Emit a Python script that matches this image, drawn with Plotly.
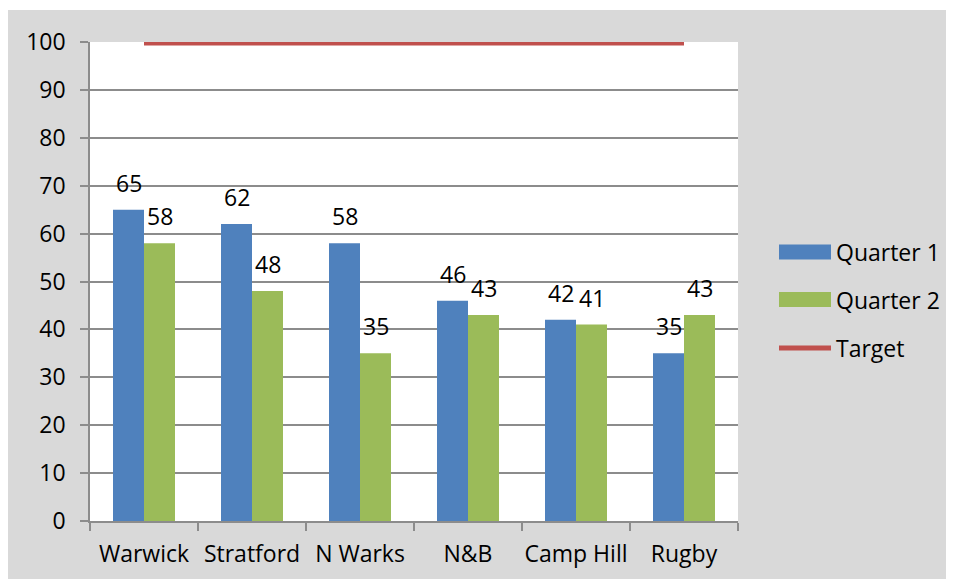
import plotly.graph_objects as go

categories = ["Warwick", "Stratford", "N Warks", "N&B", "Camp Hill", "Rugby"]
quarter1 = [65, 62, 58, 46, 42, 35]
quarter2 = [58, 48, 35, 43, 41, 43]
target = [100, 100, 100, 100, 100, 100]
y_ticks = [0, 10, 20, 30, 40, 50, 60, 70, 80, 90, 100]
series_names = ["Quarter 1", "Quarter 2", "Target"]

BLUE = "#4f81bd"
GREEN = "#9bbb59"
RED = "#c0504d"
GRID = "#8c8c8c"
BG = "#d9d9d9"
FONT = "Open Sans"

W, H = 954, 579
OX, OY = 8, 8  # page body offset
ML, MT = 82, 34
PW, PH = 648, 479
MR, MB = W - ML - PW, H - MT - PH


def px(x):
    return (x - OX - ML) / PW


def py(y):
    return 1 - (y - OY - MT) / PH


fig = go.Figure()
fig.add_trace(go.Bar(x=categories, y=quarter1, name=series_names[0], marker=dict(color=BLUE, line=dict(width=0)), showlegend=False))
fig.add_trace(go.Bar(x=categories, y=quarter2, name=series_names[1], marker=dict(color=GREEN, line=dict(width=0)), showlegend=False))
fig.add_trace(go.Scatter(x=categories, y=target, name=series_names[2], mode="lines", cliponaxis=True,
                         line=dict(color=RED, width=7), showlegend=False))

# data labels
off = 0.1435
annotations = []
for i, (a, b) in enumerate(zip(quarter1, quarter2)):
    annotations.append(dict(x=i - off, y=a, text=str(a), showarrow=False, yshift=27, yanchor="middle",
                            font=dict(family=FONT, size=23, color="#000")))
    annotations.append(dict(x=i + off, y=b, text=str(b), showarrow=False, yshift=27, yanchor="middle",
                            font=dict(family=FONT, size=23, color="#000")))

shapes = [
    dict(type="rect", xref="paper", yref="paper", x0=px(-20), x1=px(980), y0=py(10), y1=py(-20),
         fillcolor="white", line=dict(width=0), layer="below"),
]

# manual legend
leg_rows = [252, 299.5, 348]
shapes.append(dict(type="rect", xref="paper", yref="paper", x0=px(779), x1=px(831), y0=py(leg_rows[0] + 7.5), y1=py(leg_rows[0] - 7.5),
                   fillcolor=BLUE, line=dict(width=0)))
shapes.append(dict(type="rect", xref="paper", yref="paper", x0=px(779), x1=px(831), y0=py(leg_rows[1] + 7.5), y1=py(leg_rows[1] - 7.5),
                   fillcolor=GREEN, line=dict(width=0)))
shapes.append(dict(type="line", xref="paper", yref="paper", x0=px(779), x1=px(831), y0=py(leg_rows[2]), y1=py(leg_rows[2]),
                   line=dict(color=RED, width=5)))
for name, ry in zip(series_names, leg_rows):
    annotations.append(dict(xref="paper", yref="paper", x=px(834), y=py(ry), text=name, showarrow=False,
                            xanchor="left", yanchor="middle", font=dict(family=FONT, size=23, color="#000")))

fig.update_layout(
    width=W, height=H,
    margin=dict(l=ML, r=MR, t=MT, b=MB, pad=0),
    paper_bgcolor=BG, plot_bgcolor="white",
    font=dict(family=FONT, size=23, color="#000"),
    barmode="group", bargap=0.426, bargroupgap=0,
    showlegend=False,
    annotations=annotations, shapes=shapes,
    xaxis=dict(type="category", showgrid=False, showline=True, linecolor=GRID, linewidth=1.5,
               ticks="outside", ticklen=8, tickcolor=GRID, tickwidth=1.5, tickson="boundaries",
               ticklabelstandoff=12, tickangle=0, automargin=False, tickfont=dict(size=23)),
    yaxis=dict(range=[0, 100], tickvals=y_ticks, showgrid=True, gridcolor=GRID, gridwidth=1.5,
               showline=True, linecolor=GRID, linewidth=1.5, zeroline=False, automargin=False,
               ticks="outside", ticklen=8, tickcolor=GRID, tickwidth=1.5, ticklabelstandoff=10,
               tickfont=dict(size=23)),
)

fig.write_html("out.html")
